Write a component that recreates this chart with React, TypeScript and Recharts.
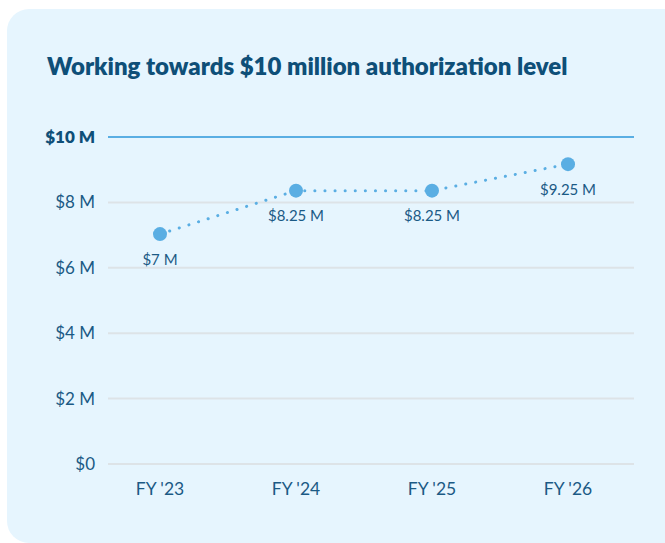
import React from "react";
import { LineChart, Line, XAxis, YAxis, CartesianGrid, ReferenceLine, LabelList } from "recharts";

const categories = ["FY '23", "FY '24", "FY '25", "FY '26"];
const values = [7.03, 8.36, 8.36, 9.17];
const valueLabels = ["$7 M", "$8.25 M", "$8.25 M", "$9.25 M"];
const yTicks = [0, 2, 4, 6, 8, 10];
const yTickLabels = ["$0", "$2 M", "$4 M", "$6 M", "$8 M", "$10 M"];

const data = categories.map((c, i) => ({ name: c, value: values[i], label: valueLabels[i] }));

const TEXT = "#1B5A85";
const LINE = "#5AAEE3";
const FONT = "Lato, 'Noto Sans', sans-serif";

const YTick = (props: any) => {
  const { x, y, payload } = props;
  const idx = yTicks.indexOf(payload.value);
  const bold = payload.value === 10;
  return (
    <text x={x} y={y} dy={6} textAnchor="end" fill={bold ? "#0E4F78" : TEXT} fontSize={17} fontWeight={bold ? 800 : 400} fontFamily={FONT}>
      {yTickLabels[idx]}
    </text>
  );
};

const XTick = (props: any) => {
  const { x, y, payload } = props;
  return (
    <text x={x} y={y} dy={23} textAnchor="middle" fill={TEXT} fontSize={17.5} fontFamily={FONT}>
      {payload.value}
    </text>
  );
};

export default function App() {
  return (
    <div style={{ position: "absolute", left: 0, top: 0, width: 665, height: 543, background: "#ffffff", overflow: "hidden" }}>
      <div style={{ position: "absolute", left: 7, top: 9, width: 680, height: 534, background: "#E6F5FE", borderRadius: 22 }} />
      <div style={{ position: "absolute", left: 47, top: 51, fontFamily: FONT, fontWeight: 800, fontSize: 24, lineHeight: "30px", color: "#0E4F78", whiteSpace: "nowrap", letterSpacing: 0 }}>
        Working towards $10 million authorization level
      </div>
      <div style={{ position: "absolute", left: 0, top: 0 }}>
        <LineChart width={665} height={543} data={data} margin={{ top: 137, right: 31, bottom: 49, left: 0 }}>
          <CartesianGrid horizontal={true} vertical={false} stroke="#DDE3E7" strokeWidth={2} />
          <XAxis dataKey="name" axisLine={false} tickLine={false} tick={<XTick />} padding={{ left: 52, right: 66 }} interval={0} />
          <YAxis type="number" domain={[0, 10]} ticks={yTicks} axisLine={false} tickLine={false} tick={<YTick />} width={108} tickMargin={7} />
          <ReferenceLine y={10} stroke={LINE} strokeWidth={2} />
          <Line
            type="linear"
            dataKey="value"
            stroke={LINE}
            strokeWidth={3}
            strokeDasharray="0.1 10"
            strokeLinecap="round"
            dot={{ r: 7, fill: LINE, stroke: "none", strokeDasharray: "0" }}
            activeDot={false}
            isAnimationActive={false}
          >
            <LabelList dataKey="label" position="bottom" offset={20} fill={TEXT} fontSize={15} fontFamily={FONT} />
          </Line>
        </LineChart>
      </div>
    </div>
  );
}
